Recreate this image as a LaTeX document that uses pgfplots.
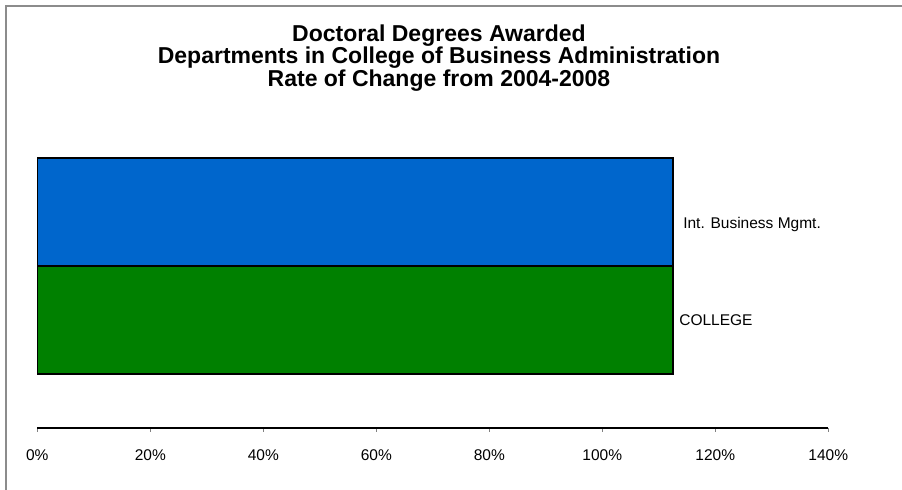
\documentclass[border=0pt]{standalone}
\usepackage{fontspec}
\setmainfont{Liberation Sans}
\usepackage{pgfplots}
\pgfplotsset{compat=1.18}
\definecolor{barblue}{RGB}{0,102,204}
\definecolor{bargreen}{RGB}{0,128,0}
\definecolor{framegray}{RGB}{140,140,140}
\begin{document}
\begin{tikzpicture}[x=1bp,y=1bp]
\useasboundingbox (0,0) rectangle (902,490);
\draw[framegray, line width=2bp] (6,0) -- (6,484) -- (902,484);
\node[align=center, font=\fontsize{23bp}{22.5bp}\selectfont\bfseries] at (439,432) {Doctoral Degrees Awarded\\Departments in College of Business Administration\\Rate of Change from 2004-2008};
\begin{axis}[
  at={(37.3bp,62bp)}, anchor=south west,
  scale only axis, width=791bp, height=324bp,
  xmin=0, xmax=140, ymin=-1, ymax=2,
  axis x line*=bottom, axis y line=none,
  x axis line style={black, line width=1.3bp, -},
  xtick={0,20,...,140},
  xticklabels={0\%,20\%,40\%,60\%,80\%,100\%,120\%,140\%},
  tick align=outside, major tick length=4bp,
  xtick style={gray, line width=0.8bp},
  xticklabel style={font=\fontsize{15.5bp}{18bp}\selectfont, yshift=-14bp},
  clip=false,
]
\addplot[xbar, bar shift=0pt, bar width=1, fill=barblue, draw=black, line width=1.3bp] coordinates {(112.5,1)};
\addplot[xbar, bar shift=0pt, bar width=1, fill=bargreen, draw=black, line width=1.3bp] coordinates {(112.5,0)};
\node[anchor=west, inner sep=0pt, font=\fontsize{15.5bp}{18bp}\selectfont] at (axis cs:114.3,0.88) {Int. Business Mgmt.};
\node[anchor=west, inner sep=0pt, font=\fontsize{15.5bp}{18bp}\selectfont] at (axis cs:113.6,0.0) {COLLEGE};
\end{axis}
\end{tikzpicture}
\end{document}
